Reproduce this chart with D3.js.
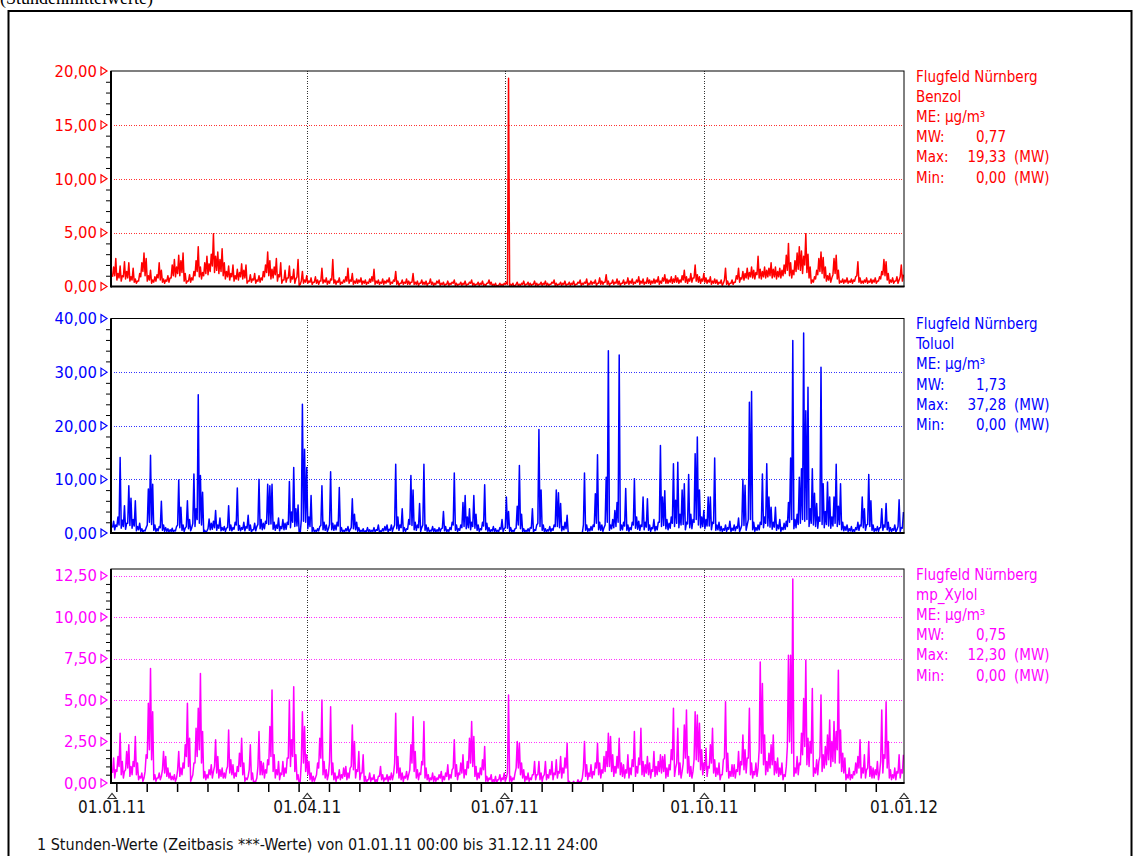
<!DOCTYPE html>
<html>
<head>
<meta charset="utf-8">
<script src="https://cdnjs.cloudflare.com/ajax/libs/d3/7.8.5/d3.min.js"></script>
<style>
  body { margin: 0; background: #fff; }
  svg { display: block; }
  text { font-family: "DejaVu Sans Condensed", "Liberation Sans", sans-serif; }
</style>
</head>
<body>
<svg id="chart" width="1133" height="856"></svg>
<script>
// 2011, one high and one low reading per day (µg/m³)
var benzol = [
  1.8, 2.6, 1.2, 1.9, 1.0, 2.3, 1.4, 2.2, 0.9, 1.7,
  0.7, 0.5, 1.2, 2.2, 3.1, 2.6, 1.0, 1.5, 0.6, 0.9,
  1.1, 2.2, 1.5, 0.7, 0.6, 1.0, 0.8, 2.0, 2.5, 1.8,
  2.9, 2.4, 3.1, 1.2, 0.5, 1.1, 0.8, 1.4, 2.4, 3.7,
  1.8, 1.3, 2.2, 2.8, 2.1, 3.0, 4.9, 2.8, 3.2, 2.5,
  3.5, 2.2, 1.4, 1.9, 1.2, 2.0, 1.0, 1.6, 1.3, 2.1,
  1.5, 2.0, 0.5, 1.1, 0.7, 1.2, 0.6, 1.0, 0.8, 1.4,
  2.0, 3.2, 2.4, 1.6, 1.8, 2.6, 1.1, 2.2, 0.6, 1.5,
  0.8, 1.9, 0.9, 1.6, 0.7, 2.5, 0.2, 1.4, 0.6, 1.0,
  0.5, 0.8, 0.4, 0.9, 0.6, 0.5, 1.7, 0.6, 0.8, 0.5,
  0.7, 2.5, 0.6, 0.5, 0.8, 0.4, 0.6, 0.9, 1.7, 0.6,
  1.2, 0.5, 0.7, 0.6, 0.8, 0.5, 0.6, 0.4, 0.7, 0.9,
  1.6, 0.5, 0.6, 0.4, 0.7, 0.5, 0.6, 0.8, 0.4, 0.6,
  1.4, 0.5, 0.3, 0.6, 0.4, 0.7, 0.5, 0.4, 1.2, 0.4,
  0.5, 0.3, 0.6, 0.4, 0.5, 0.3, 0.7, 0.4, 0.3, 0.5,
  0.6, 0.3, 0.4, 0.2, 0.5, 0.3, 0.4, 0.6, 0.3, 0.2,
  0.4, 0.3, 0.5, 0.2, 0.4, 0.6, 0.3, 0.2, 0.4, 0.3,
  0.5, 0.2, 0.3, 0.6, 0.4, 0.2, 0.3, 0.1, 0.3, 0.2,
  0.3, 0.4, 19.33, 0.2, 0.3, 0.1, 0.4, 0.2, 0.3, 0.5,
  0.2, 0.4, 0.3, 0.2, 0.5, 0.3, 0.2, 0.4, 0.3, 0.5,
  0.3, 0.2, 0.4, 0.6, 0.3, 0.2, 0.4, 0.3, 0.5, 0.2,
  0.4, 0.3, 0.5, 0.2, 0.4, 0.6, 0.3, 0.4, 0.7, 0.3,
  0.5, 0.4, 0.6, 0.3, 0.8, 0.5, 0.4, 1.1, 0.5, 0.3,
  0.6, 0.4, 0.7, 0.5, 0.3, 0.6, 0.4, 0.8, 0.5, 0.7,
  0.4, 0.6, 0.9, 0.5, 0.7, 0.4, 0.8, 0.6, 0.5, 0.7,
  0.6, 0.9, 0.5, 0.8, 1.1, 0.7, 0.6, 0.9, 0.7, 1.0,
  0.8, 0.6, 1.0, 1.5, 0.9, 0.7, 1.2, 0.8, 2.0, 1.1,
  0.9, 0.7, 1.2, 0.8, 0.6, 0.9, 0.5, 0.7, 0.6, 0.4,
  0.6, 0.3, 1.7, 0.5, 0.3, 0.6, 0.4, 1.0, 1.7, 0.8,
  1.4, 1.2, 1.7, 1.3, 1.8, 1.5, 1.3, 2.8, 1.6, 1.4,
  1.8, 1.5, 1.7, 2.2, 1.6, 1.8, 1.4, 1.7, 1.5, 2.0,
  2.9, 4.0, 2.2, 1.5, 2.4, 3.1, 3.7, 3.3, 2.8, 4.9,
  3.0, 1.8, 0.6, 0.9, 1.5, 2.6, 3.2, 2.7, 1.8, 1.0,
  1.2, 0.8, 2.6, 2.9, 1.5, 0.5, 0.7, 0.6, 0.8, 0.5,
  0.7, 0.6, 0.9, 2.3, 0.8, 0.5, 0.6, 0.8, 0.5, 0.7,
  0.6, 0.8, 0.5, 0.9, 1.4, 2.5, 2.3, 1.2, 0.6, 0.8,
  0.5, 0.9, 0.6, 2.0, 1.1
];
var benzolLow = [
  0.9, 1.0, 0.6, 0.8, 0.5, 0.9, 0.7, 0.8, 0.5, 0.6,
  0.4, 0.3, 0.5, 0.9, 1.4, 1.0, 0.5, 0.6, 0.3, 0.4,
  0.5, 0.8, 0.6, 0.4, 0.3, 0.5, 0.4, 0.8, 1.0, 0.9,
  1.2, 1.0, 1.3, 0.5, 0.3, 0.5, 0.4, 0.6, 1.0, 1.4,
  0.9, 0.7, 1.0, 1.2, 1.1, 1.4, 1.9, 1.3, 1.5, 1.2,
  1.4, 1.0, 0.7, 0.9, 0.6, 0.9, 0.5, 0.7, 0.6, 0.9,
  0.7, 0.8, 0.3, 0.5, 0.4, 0.6, 0.3, 0.5, 0.4, 0.6,
  0.9, 1.3, 1.0, 0.7, 0.8, 1.1, 0.5, 0.9, 0.3, 0.6,
  0.4, 0.8, 0.4, 0.7, 0.3, 0.9, 0.1, 0.5, 0.3, 0.4,
  0.3, 0.4, 0.2, 0.4, 0.3, 0.2, 0.5, 0.3, 0.4, 0.2,
  0.3, 0.6, 0.3, 0.2, 0.4, 0.2, 0.3, 0.4, 0.5, 0.3,
  0.5, 0.2, 0.3, 0.3, 0.4, 0.2, 0.3, 0.2, 0.3, 0.4,
  0.5, 0.2, 0.3, 0.2, 0.3, 0.2, 0.3, 0.4, 0.2, 0.3,
  0.5, 0.2, 0.1, 0.3, 0.2, 0.3, 0.2, 0.2, 0.4, 0.2,
  0.2, 0.1, 0.3, 0.2, 0.2, 0.1, 0.3, 0.2, 0.1, 0.2,
  0.3, 0.1, 0.2, 0.1, 0.2, 0.1, 0.2, 0.3, 0.1, 0.1,
  0.2, 0.1, 0.2, 0.1, 0.2, 0.3, 0.1, 0.1, 0.2, 0.1,
  0.2, 0.1, 0.1, 0.3, 0.2, 0.1, 0.1, 0.0, 0.1, 0.1,
  0.1, 0.2, 0.2, 0.1, 0.1, 0.0, 0.2, 0.1, 0.1, 0.2,
  0.1, 0.2, 0.1, 0.1, 0.2, 0.1, 0.1, 0.2, 0.1, 0.2,
  0.1, 0.1, 0.2, 0.3, 0.1, 0.1, 0.2, 0.1, 0.2, 0.1,
  0.2, 0.1, 0.2, 0.1, 0.2, 0.3, 0.1, 0.2, 0.3, 0.1,
  0.2, 0.2, 0.3, 0.1, 0.3, 0.2, 0.2, 0.4, 0.2, 0.1,
  0.3, 0.2, 0.3, 0.2, 0.1, 0.3, 0.2, 0.3, 0.2, 0.3,
  0.2, 0.3, 0.4, 0.2, 0.3, 0.2, 0.3, 0.3, 0.2, 0.3,
  0.3, 0.4, 0.2, 0.3, 0.5, 0.3, 0.3, 0.4, 0.3, 0.4,
  0.4, 0.3, 0.4, 0.6, 0.4, 0.3, 0.5, 0.4, 0.8, 0.5,
  0.4, 0.3, 0.5, 0.4, 0.3, 0.4, 0.2, 0.3, 0.3, 0.2,
  0.3, 0.1, 0.6, 0.2, 0.1, 0.3, 0.2, 0.4, 0.7, 0.4,
  0.7, 0.6, 0.8, 0.7, 0.9, 0.8, 0.7, 1.1, 0.8, 0.7,
  0.9, 0.8, 0.9, 1.0, 0.8, 0.9, 0.7, 0.9, 0.8, 1.0,
  1.2, 1.5, 1.0, 0.8, 1.1, 1.4, 1.6, 1.5, 1.2, 2.0,
  1.3, 0.8, 0.3, 0.4, 0.7, 1.1, 1.4, 1.2, 0.8, 0.5,
  0.6, 0.4, 1.1, 1.2, 0.7, 0.3, 0.4, 0.3, 0.4, 0.3,
  0.4, 0.3, 0.5, 1.0, 0.4, 0.3, 0.3, 0.4, 0.3, 0.4,
  0.3, 0.4, 0.3, 0.5, 0.7, 1.1, 1.0, 0.6, 0.3, 0.4,
  0.3, 0.5, 0.3, 0.9, 0.5
];

var toluol = [
  2.2, 1.5, 3.0, 14.1, 2.4, 5.1, 1.8, 8.8, 6.5, 2.5,
  6.0, 1.2, 1.8, 0.8, 0.5, 1.0, 8.2, 14.5, 9.1, 1.5,
  0.8, 1.2, 5.9, 1.5, 1.0, 0.8, 0.6, 0.9, 0.5, 1.2,
  9.9, 4.8, 1.5, 0.9, 6.0, 2.5, 1.0, 11.0, 4.5, 25.8,
  10.7, 7.6, 0.5, 0.4, 2.6, 1.8, 2.2, 4.2, 1.5, 2.8,
  1.0, 1.2, 0.9, 5.1, 1.5, 1.0, 2.0, 8.4, 1.4, 1.0,
  2.0, 1.2, 3.3, 1.5, 0.6, 1.8, 1.2, 10.0, 2.5, 1.8,
  2.2, 9.1, 8.8, 9.1, 2.0, 1.5, 2.8, 1.2, 2.5, 1.8,
  2.0, 9.6, 3.9, 12.2, 4.5, 5.2, 0.0, 24.0, 15.6, 12.2,
  3.0, 7.0, 1.0, 0.5, 0.8, 1.2, 8.8, 2.0, 1.5, 0.8,
  11.4, 1.8, 1.5, 2.0, 8.5, 1.0, 0.5, 0.8, 1.2, 0.6,
  6.4, 3.5, 2.0, 1.0, 0.5, 0.8, 0.4, 1.0, 0.6, 0.5,
  1.0, 0.6, 1.5, 0.4, 0.8, 1.2, 1.5, 0.7, 1.5, 1.0,
  12.8, 3.0, 1.5, 4.5, 1.0, 0.8, 2.5, 10.7, 8.0, 2.0,
  1.5, 5.5, 1.0, 12.8, 1.5, 1.0, 0.5, 1.2, 0.8, 0.6,
  1.0, 0.8, 4.0, 1.2, 0.6, 1.0, 2.0, 11.2, 1.5, 0.8,
  1.5, 5.7, 7.0, 3.0, 4.5, 2.0, 7.0, 3.5, 1.5, 0.8,
  2.0, 9.0, 1.8, 1.0, 0.6, 1.2, 0.8, 0.5, 1.0, 2.5,
  0.8, 6.7, 4.0, 1.0, 0.5, 0.8, 5.0, 12.6, 3.5, 0.8,
  0.5, 0.8, 1.0, 4.5, 0.6, 1.5, 19.3, 8.0, 1.5, 0.8,
  0.6, 1.2, 0.8, 1.5, 8.0, 7.5, 5.5, 1.2, 2.0, 3.3,
  0.0, 0.0, 0.0, 0.0, 0.0, 0.0, 0.0, 11.2, 1.5, 0.8,
  1.2, 1.5, 7.3, 14.6, 2.0, 1.5, 1.0, 10.4, 34.0, 1.5,
  2.5, 4.2, 5.7, 33.2, 1.5, 2.0, 8.3, 1.5, 1.0, 2.0,
  10.1, 3.0, 2.2, 1.5, 6.7, 2.0, 6.4, 1.5, 1.0, 2.5,
  1.2, 2.0, 16.3, 6.7, 7.9, 2.5, 1.8, 3.0, 12.9, 6.1,
  13.2, 3.5, 8.0, 9.2, 2.0, 10.9, 3.5, 2.5, 14.8, 17.9,
  8.0, 3.0, 4.2, 2.5, 6.7, 6.7, 2.0, 14.0, 1.5, 2.0,
  1.2, 0.8, 1.5, 1.0, 2.2, 0.9, 1.5, 1.2, 2.8, 0.8,
  10.0, 8.9, 1.5, 24.4, 26.4, 2.0, 1.0, 1.5, 2.0, 11.0,
  3.0, 12.9, 6.7, 4.8, 2.0, 4.8, 1.5, 2.5, 1.0, 1.8,
  2.2, 5.7, 14.0, 35.9, 2.5, 3.5, 10.4, 12.0, 37.28, 22.8,
  27.2, 4.5, 12.0, 7.4, 5.5, 3.0, 30.9, 9.2, 4.0, 9.5,
  6.7, 3.0, 6.7, 12.8, 5.0, 9.2, 2.0, 1.2, 1.5, 0.8,
  1.2, 0.6, 1.0, 2.0, 1.5, 6.7, 4.5, 1.5, 10.9, 6.0,
  1.5, 0.8, 1.2, 1.0, 4.5, 1.5, 5.5, 2.0, 1.0, 0.8,
  1.5, 0.6, 6.2, 1.0, 3.9
];
var toluolLow = [
  1.0, 0.6, 1.2, 1.5, 0.9, 1.2, 0.7, 1.8, 1.4, 0.9,
  1.3, 0.4, 0.6, 0.3, 0.2, 0.4, 1.5, 2.0, 1.6, 0.5,
  0.3, 0.4, 1.0, 0.5, 0.3, 0.3, 0.2, 0.3, 0.2, 0.4,
  1.5, 1.0, 0.5, 0.3, 1.2, 0.8, 0.4, 1.8, 1.2, 2.5,
  1.8, 1.5, 0.2, 0.1, 0.8, 0.6, 0.7, 1.0, 0.5, 0.9,
  0.4, 0.5, 0.3, 1.0, 0.5, 0.4, 0.7, 1.5, 0.5, 0.4,
  0.7, 0.4, 0.9, 0.5, 0.2, 0.6, 0.4, 1.6, 0.8, 0.6,
  0.8, 1.8, 1.6, 1.7, 0.7, 0.5, 0.9, 0.4, 0.8, 0.6,
  0.7, 1.6, 1.0, 2.0, 1.2, 1.3, 0.0, 2.5, 2.2, 2.0,
  0.8, 1.2, 0.3, 0.2, 0.3, 0.4, 1.4, 0.6, 0.5, 0.3,
  1.6, 0.6, 0.5, 0.6, 1.3, 0.3, 0.2, 0.3, 0.4, 0.2,
  1.0, 0.8, 0.6, 0.3, 0.2, 0.3, 0.1, 0.3, 0.2, 0.2,
  0.3, 0.2, 0.5, 0.1, 0.3, 0.4, 0.5, 0.2, 0.5, 0.3,
  1.5, 0.8, 0.5, 1.0, 0.3, 0.3, 0.7, 1.6, 1.4, 0.6,
  0.5, 1.0, 0.3, 1.5, 0.5, 0.3, 0.2, 0.4, 0.3, 0.2,
  0.3, 0.3, 0.9, 0.4, 0.2, 0.3, 0.6, 1.5, 0.5, 0.3,
  0.5, 1.0, 1.2, 0.8, 1.0, 0.6, 1.2, 0.9, 0.5, 0.3,
  0.6, 1.3, 0.6, 0.3, 0.2, 0.4, 0.3, 0.2, 0.3, 0.7,
  0.3, 1.0, 0.9, 0.3, 0.2, 0.3, 0.9, 1.5, 0.8, 0.3,
  0.2, 0.3, 0.3, 0.9, 0.2, 0.5, 1.8, 1.2, 0.5, 0.3,
  0.2, 0.4, 0.3, 0.5, 1.2, 1.2, 1.0, 0.4, 0.6, 0.8,
  0.0, 0.0, 0.0, 0.0, 0.0, 0.0, 0.0, 1.5, 0.5, 0.3,
  0.4, 0.5, 1.2, 1.8, 0.6, 0.5, 0.3, 1.5, 2.0, 0.5,
  0.8, 1.0, 1.2, 2.0, 0.5, 0.6, 1.3, 0.5, 0.3, 0.6,
  1.5, 0.9, 0.7, 0.5, 1.2, 0.6, 1.1, 0.5, 0.3, 0.8,
  0.4, 0.6, 2.0, 1.2, 1.4, 0.8, 0.6, 0.9, 1.8, 1.2,
  1.8, 1.0, 1.5, 1.6, 0.6, 1.7, 1.0, 0.8, 2.0, 2.5,
  1.5, 1.0, 1.2, 0.8, 1.3, 1.3, 0.6, 1.8, 0.5, 0.6,
  0.4, 0.3, 0.5, 0.3, 0.7, 0.3, 0.5, 0.4, 0.9, 0.3,
  1.5, 1.4, 0.5, 2.5, 2.5, 0.6, 0.3, 0.5, 0.6, 1.6,
  1.0, 1.8, 1.3, 1.1, 0.7, 1.1, 0.5, 0.8, 0.3, 0.6,
  0.7, 1.2, 2.0, 2.5, 0.8, 1.0, 1.6, 1.8, 2.5, 2.2,
  2.5, 1.2, 1.8, 1.5, 1.2, 0.9, 2.2, 1.6, 1.0, 1.6,
  1.3, 0.9, 1.3, 1.8, 1.2, 1.6, 0.6, 0.4, 0.5, 0.3,
  0.4, 0.2, 0.3, 0.6, 0.5, 1.3, 1.0, 0.5, 1.6, 1.2,
  0.5, 0.3, 0.4, 0.3, 1.0, 0.5, 1.1, 0.6, 0.3, 0.3,
  0.5, 0.2, 1.2, 0.3, 0.9
];

var xylol = [
  1.5, 0.8, 1.6, 3.0, 1.3, 0.7, 1.9, 2.3, 1.0, 1.3,
  2.8, 1.2, 0.4, 0.6, 0.3, 1.7, 4.8, 6.9, 4.3, 0.5,
  0.3, 0.6, 0.4, 1.9, 1.6, 0.9, 0.6, 0.4, 0.5, 0.3,
  1.9, 0.9, 1.2, 2.3, 4.8, 2.7, 0.3, 1.2, 3.3, 4.5,
  6.6, 3.1, 0.7, 0.5, 0.8, 1.1, 0.7, 2.6, 1.6, 0.8,
  0.9, 0.6, 0.8, 3.2, 1.4, 1.1, 0.6, 1.0, 1.8, 2.7,
  1.2, 0.3, 0.4, 2.3, 0.6, 0.1, 0.3, 3.1, 1.3, 1.2,
  0.8, 1.4, 3.4, 5.6, 1.7, 0.8, 1.3, 0.6, 1.3, 0.9,
  1.5, 5.0, 2.6, 5.8, 1.7, 0.5, 0.1, 4.3, 3.4, 1.7,
  1.3, 0.6, 0.4, 0.3, 1.2, 2.7, 5.0, 1.3, 0.8, 0.5,
  4.6, 1.2, 0.6, 0.4, 0.8, 0.5, 0.9, 1.0, 0.6, 0.9,
  3.5, 2.5, 0.8, 1.9, 0.6, 1.7, 0.4, 0.2, 0.6, 0.3,
  0.5, 0.2, 0.4, 1.0, 0.5, 0.3, 0.5, 0.4, 0.6, 0.5,
  4.2, 1.6, 0.9, 0.6, 0.4, 0.7, 0.5, 2.3, 4.0, 1.9,
  0.8, 0.6, 1.3, 3.7, 0.9, 0.5, 0.3, 0.6, 0.4, 0.3,
  0.5, 0.7, 0.4, 0.6, 1.1, 0.5, 0.8, 2.6, 1.1, 0.6,
  1.2, 1.7, 0.8, 1.3, 2.7, 3.7, 2.8, 1.0, 0.6, 0.9,
  1.4, 2.2, 0.4, 0.3, 0.5, 0.2, 0.4, 0.2, 0.5, 0.3,
  0.6, 0.3, 5.3, 0.4, 0.3, 0.6, 2.5, 2.4, 1.2, 0.8,
  0.4, 0.6, 0.3, 0.5, 1.3, 0.5, 1.3, 0.6, 0.4, 1.3,
  0.5, 0.8, 1.3, 0.6, 1.4, 0.7, 1.6, 0.9, 1.5, 2.4,
  0.1, 0.0, 0.1, 0.0, 0.2, 0.1, 0.3, 2.5, 1.1, 0.6,
  1.1, 0.7, 1.2, 2.4, 1.2, 0.8, 1.6, 1.9, 3.0, 2.8,
  1.7, 1.0, 1.6, 2.7, 1.2, 1.1, 0.8, 1.7, 0.9, 1.4,
  3.1, 1.0, 1.5, 3.3, 1.3, 1.1, 1.6, 1.2, 0.8, 1.9,
  1.0, 1.3, 1.7, 1.6, 1.7, 0.9, 1.1, 2.0, 4.5, 0.9,
  3.3, 1.2, 0.7, 3.5, 4.4, 1.6, 1.0, 0.7, 4.3, 4.1,
  3.6, 2.0, 1.2, 2.1, 1.0, 2.3, 3.3, 1.4, 0.9, 1.2,
  0.5, 1.4, 4.9, 1.8, 0.7, 1.1, 1.1, 0.8, 1.9, 1.3,
  2.9, 2.0, 1.5, 4.5, 1.2, 0.7, 1.2, 0.9, 7.3, 6.0,
  2.9, 1.3, 1.8, 2.3, 2.9, 1.3, 1.5, 0.9, 1.2, 0.5,
  1.0, 7.7, 7.7, 12.3, 0.9, 1.6, 1.2, 3.0, 5.1, 7.4,
  2.7, 2.5, 5.7, 0.9, 1.4, 1.3, 5.3, 1.7, 2.2, 2.9,
  3.8, 2.5, 3.7, 3.1, 6.8, 3.2, 1.8, 1.5, 0.5, 0.9,
  0.5, 0.7, 1.2, 1.6, 2.6, 0.9, 1.7, 0.8, 2.5, 1.0,
  0.9, 0.8, 1.3, 0.6, 4.4, 1.7, 4.9, 2.5, 0.8, 0.5,
  0.9, 0.7, 1.7, 0.8, 1.7
];
var xylolLow = [
  0.6, 0.3, 0.7, 1.0, 0.5, 0.3, 0.8, 0.9, 0.4, 0.5,
  1.0, 0.5, 0.2, 0.3, 0.1, 0.7, 1.5, 2.0, 1.4, 0.2,
  0.1, 0.3, 0.2, 0.8, 0.6, 0.4, 0.3, 0.2, 0.2, 0.1,
  0.8, 0.4, 0.5, 0.9, 1.6, 1.0, 0.1, 0.5, 1.2, 1.6,
  2.0, 1.2, 0.3, 0.2, 0.3, 0.5, 0.3, 1.0, 0.6, 0.3,
  0.4, 0.3, 0.3, 1.0, 0.6, 0.5, 0.3, 0.4, 0.7, 1.0,
  0.5, 0.1, 0.2, 0.8, 0.2, 0.0, 0.1, 1.0, 0.5, 0.5,
  0.3, 0.6, 1.1, 1.6, 0.7, 0.3, 0.5, 0.2, 0.5, 0.4,
  0.6, 1.5, 1.0, 1.6, 0.7, 0.2, 0.0, 1.3, 1.2, 0.7,
  0.5, 0.2, 0.1, 0.1, 0.5, 0.9, 1.5, 0.5, 0.3, 0.2,
  1.3, 0.5, 0.2, 0.1, 0.3, 0.2, 0.3, 0.4, 0.2, 0.3,
  1.0, 0.8, 0.3, 0.7, 0.2, 0.6, 0.1, 0.0, 0.2, 0.1,
  0.2, 0.0, 0.1, 0.4, 0.2, 0.1, 0.2, 0.1, 0.2, 0.2,
  1.2, 0.6, 0.3, 0.2, 0.1, 0.3, 0.2, 0.8, 1.2, 0.7,
  0.3, 0.2, 0.5, 1.1, 0.3, 0.2, 0.1, 0.2, 0.1, 0.1,
  0.2, 0.3, 0.1, 0.2, 0.4, 0.2, 0.3, 0.9, 0.4, 0.2,
  0.5, 0.6, 0.3, 0.5, 0.9, 1.2, 1.0, 0.4, 0.2, 0.3,
  0.5, 0.8, 0.1, 0.1, 0.2, 0.0, 0.1, 0.0, 0.2, 0.1,
  0.2, 0.1, 0.6, 0.1, 0.1, 0.2, 0.9, 0.9, 0.5, 0.3,
  0.1, 0.2, 0.1, 0.2, 0.5, 0.2, 0.5, 0.2, 0.1, 0.5,
  0.2, 0.3, 0.5, 0.2, 0.5, 0.3, 0.6, 0.3, 0.6, 0.9,
  0.0, 0.0, 0.0, 0.0, 0.0, 0.0, 0.1, 0.9, 0.4, 0.2,
  0.4, 0.3, 0.5, 0.9, 0.5, 0.3, 0.6, 0.7, 1.0, 1.0,
  0.7, 0.4, 0.6, 0.9, 0.5, 0.4, 0.3, 0.6, 0.3, 0.5,
  1.0, 0.4, 0.6, 1.1, 0.5, 0.4, 0.6, 0.5, 0.3, 0.7,
  0.4, 0.5, 0.7, 0.6, 0.7, 0.3, 0.4, 0.8, 1.4, 0.4,
  1.2, 0.5, 0.3, 1.2, 1.5, 0.6, 0.4, 0.3, 1.4, 1.4,
  1.3, 0.8, 0.5, 0.8, 0.4, 0.9, 1.2, 0.6, 0.4, 0.5,
  0.2, 0.5, 1.5, 0.7, 0.3, 0.4, 0.4, 0.3, 0.7, 0.5,
  1.1, 0.8, 0.6, 1.5, 0.5, 0.3, 0.5, 0.4, 2.0, 1.8,
  1.1, 0.5, 0.7, 0.9, 1.1, 0.5, 0.6, 0.4, 0.5, 0.2,
  0.4, 2.2, 2.5, 1.8, 0.4, 0.6, 0.5, 1.1, 1.7, 2.2,
  1.1, 1.0, 1.8, 0.4, 0.6, 0.5, 1.6, 0.7, 0.9, 1.1,
  1.4, 1.0, 1.3, 1.2, 2.0, 1.2, 0.7, 0.6, 0.2, 0.3,
  0.2, 0.3, 0.5, 0.6, 0.9, 0.3, 0.6, 0.3, 0.9, 0.4,
  0.3, 0.3, 0.5, 0.2, 1.3, 0.6, 1.5, 0.9, 0.3, 0.2,
  0.3, 0.2, 0.6, 0.3, 0.6
];

var station = 'Flugfeld Nürnberg';
var unit = 'µg/m³';
var components = ['Benzol', 'Toluol', 'mp_Xylol'];
var meanValues = [0.77, 1.73, 0.75];
var maxValues = [19.33, 37.28, 12.30];
var minValues = [0.00, 0.00, 0.00];
var quarterTicks = ['2011-01-01', '2011-04-01', '2011-07-01', '2011-10-01', '2012-01-01'];
var footer = '1 Stunden-Werte (Zeitbasis ***-Werte) von 01.01.11 00:00 bis 31.12.11 24:00';

var parseDay = d3.timeParse('%Y-%m-%d');
var fmtDay = d3.timeFormat('%d.%m.%y');
var fmtNum = function(v) { return d3.format('.2f')(v).replace('.', ','); };

var yearStart = new Date(2011, 0, 1);
var yearEnd = new Date(2012, 0, 1);
var quarterDates = quarterTicks.map(parseDay);

// low reading in the morning, high reading in the evening of each day
function dayPoints(high, low) {
  var pts = [];
  high.forEach(function(v, k) {
    pts.push({t: d3.timeHour.offset(yearStart, k * 24 + 6), v: low[k]});
    pts.push({t: d3.timeHour.offset(yearStart, k * 24 + 18), v: v});
  });
  return pts;
}

var left = 111, right = 904;
var svg = d3.select('#chart');
var x = d3.scaleTime().domain([yearStart, yearEnd]).range([112, right]);

// outer frame + heading (cut off at the top like the original)
svg.append('text').attr('x', 0).attr('y', 4)
  .style('font-family', '"Liberation Serif", serif').style('font-size', '18px')
  .text('(Stundenmittelwerte)');
svg.append('rect').attr('x', 8.5).attr('y', 11).attr('width', 1123).attr('height', 900)
  .attr('fill', 'none').attr('stroke', '#000').attr('stroke-width', 2);

var panels = [
  {high: benzol, low: benzolLow, top: 71, bottom: 286.5, max: 20, step: 5, color: '#ff0000'},
  {high: toluol, low: toluolLow, top: 318.5, bottom: 533, max: 40, step: 10, color: '#0000ff'},
  {high: xylol, low: xylolLow, top: 569, bottom: 783, max: 12.9, step: 2.5, color: '#ff00ff'}
];

panels.forEach(function(p, i) {
  var g = svg.append('g');
  var y = d3.scaleLinear().domain([0, p.max]).range([p.bottom, p.top]);
  var majors = d3.range(0, p.max + 1e-9, p.step);
  var minors = d3.range(0, p.max + 1e-9, p.step / 5).filter(function(v) {
    return Math.abs(v / p.step - Math.round(v / p.step)) > 1e-6;
  });

  // horizontal grid in series colour
  var hg = g.append('g').attr('transform', 'translate(' + left + ',0)')
    .call(d3.axisLeft(y).tickValues(majors.filter(function(v) { return v > 0 && v < p.max; }))
      .tickSize(-(right - left)).tickFormat(''));
  hg.select('.domain').remove();
  hg.selectAll('line').attr('stroke', p.color).attr('stroke-dasharray', '1,1.5')
    .attr('shape-rendering', 'crispEdges').attr('opacity', 0.8);

  // vertical grid at quarters
  var vg = g.append('g').attr('transform', 'translate(0,' + p.bottom + ')')
    .call(d3.axisBottom(x).tickValues(quarterDates.slice(1, 4))
      .tickSize(-(p.bottom - p.top)).tickFormat(''));
  vg.select('.domain').remove();
  vg.selectAll('line').attr('stroke', '#333').attr('stroke-dasharray', '1,1.5')
    .attr('shape-rendering', 'crispEdges');

  // series
  var clipId = 'clip' + i;
  g.append('clipPath').attr('id', clipId).append('rect')
    .attr('x', left).attr('y', p.top - 1).attr('width', right - left).attr('height', p.bottom - p.top + 1);
  var line = d3.line()
    .x(function(d) { return x(d.t); })
    .y(function(d) { return y(d.v); });
  g.append('path').datum(dayPoints(p.high, p.low))
    .attr('clip-path', 'url(#' + clipId + ')')
    .attr('fill', 'none').attr('stroke', p.color).attr('stroke-width', 1.5)
    .attr('stroke-linejoin', 'round').attr('d', line);

  // frame
  g.append('rect').attr('x', left).attr('y', p.top).attr('width', right - left)
    .attr('height', p.bottom - p.top).attr('fill', 'none').attr('stroke', '#000').attr('stroke-width', 1);
  g.append('line').attr('x1', left).attr('x2', left).attr('y1', p.top).attr('y2', p.bottom + 1)
    .attr('stroke', '#000').attr('stroke-width', 2);
  g.append('line').attr('x1', left).attr('x2', right + 0.5).attr('y1', p.bottom).attr('y2', p.bottom)
    .attr('stroke', '#000').attr('stroke-width', 2);

  // minor ticks
  var mt = g.append('g').attr('transform', 'translate(' + left + ',0)')
    .call(d3.axisLeft(y).tickValues(minors).tickSize(5).tickFormat(''));
  mt.select('.domain').remove();
  mt.selectAll('line').attr('stroke', '#000');

  // major labels + hollow triangles
  var lab = g.append('g').attr('transform', 'translate(' + left + ',0)')
    .call(d3.axisLeft(y).tickValues(majors).tickSize(0).tickPadding(14).tickFormat(fmtNum));
  lab.select('.domain').remove();
  lab.selectAll('text').attr('fill', p.color).style('font-size', '16.5px')
    .style('font-family', '"DejaVu Sans Condensed", "Liberation Sans", sans-serif');
  g.selectAll('.tri').data(majors).enter().append('path')
    .attr('d', function(v) { var yy = y(v); return 'M101,' + (yy - 4) + 'L107,' + yy + 'L101,' + (yy + 4) + 'Z'; })
    .attr('fill', '#fff').attr('stroke', p.color).attr('stroke-width', 1.2);

  // legend block
  var lx = 916, ly = p.top + 10.5, lh = 20.2;
  var leg = g.append('g').attr('fill', p.color).style('font-size', '15px');
  [station, components[i], 'ME: ' + unit].forEach(function(t, k) {
    leg.append('text').attr('x', lx).attr('y', ly + k * lh).text(t);
  });
  var rows = [['MW:', meanValues[i], ''], ['Max:', maxValues[i], '(MW)'], ['Min:', minValues[i], '(MW)']];
  rows.forEach(function(r, k) {
    var yy = ly + (k + 3) * lh;
    leg.append('text').attr('x', lx).attr('y', yy).text(r[0]);
    leg.append('text').attr('x', 1006).attr('y', yy).attr('text-anchor', 'end').text(fmtNum(r[1]));
    if (r[2]) leg.append('text').attr('x', 1014).attr('y', yy).text(r[2]);
  });

  // time axis only under last panel
  if (i === panels.length - 1) {
    var xa = g.append('g').attr('transform', 'translate(0,' + p.bottom + ')')
      .call(d3.axisBottom(x).tickValues(d3.timeDay.range(new Date(2011, 0, 3), yearEnd, 14))
        .tickSize(9).tickFormat(''));
    xa.select('.domain').remove();
    xa.selectAll('line').attr('stroke', '#000').attr('stroke-width', 1.5);

    g.selectAll('.qtri').data(quarterDates).enter().append('path')
      .attr('d', function(d) { var xx = x(d); return 'M' + (xx - 4) + ',798.5L' + xx + ',793.5L' + (xx + 4) + ',798.5Z'; })
      .attr('fill', '#fff').attr('stroke', '#333').attr('stroke-width', 1.2);
    g.selectAll('.qlab').data(quarterDates).enter().append('text')
      .attr('x', function(d) { return x(d); }).attr('y', 813)
      .attr('text-anchor', 'middle').attr('fill', '#111').style('font-size', '17px')
      .text(function(d) { return fmtDay(d); });
  }
});

svg.append('text').attr('x', 37).attr('y', 849.5).attr('fill', '#111')
  .style('font-size', '16px').text(footer);
</script>
</body>
</html>
